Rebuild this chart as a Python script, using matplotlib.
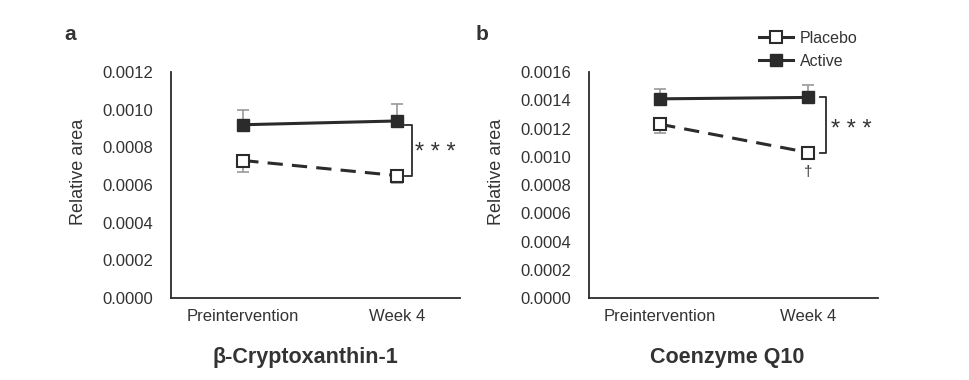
import matplotlib
matplotlib.use("Agg")
import matplotlib.pyplot as plt
from matplotlib.lines import Line2D

plt.rcParams['font.family'] = ['Liberation Sans', 'DejaVu Sans']

categories = ["Preintervention", "Week 4"]

# Panel a: beta-Cryptoxanthin-1
a_active = [0.00092, 0.00094]
a_active_err = [0.00008, 0.00009]
a_placebo = [0.00073, 0.00065]
a_placebo_err = [0.00006, 0.00004]
a_yticks = [0.0, 0.0002, 0.0004, 0.0006, 0.0008, 0.0010, 0.0012]

# Panel b: Coenzyme Q10
b_active = [0.00141, 0.00142]
b_active_err = [0.00007, 0.00009]
b_placebo = [0.00123, 0.00103]
b_placebo_err = [0.00006, 0.00003]
b_yticks = [0.0, 0.0002, 0.0004, 0.0006, 0.0008, 0.0010, 0.0012, 0.0014, 0.0016]

TXT = "#333333"
LINE = "#2b2b2b"
ERR = "#999999"

W, H = 969, 380
fig = plt.figure(figsize=(W / 100, H / 100), dpi=100)
axA = fig.add_axes([171 / W, 1 - 298 / H, 289 / W, 226 / H])
axB = fig.add_axes([589 / W, 1 - 298 / H, 289 / W, 226 / H])


def draw(ax, active, aerr, placebo, perr, yticks, xlim):
    x = list(range(len(categories)))
    ax.errorbar(x, active, yerr=[[0] * len(aerr), aerr], fmt='none', ecolor=ERR,
                elinewidth=1.2, capsize=4, capthick=1.2, zorder=1)
    ax.errorbar(x, placebo, yerr=[perr, [0] * len(perr)], fmt='none', ecolor=ERR,
                elinewidth=1.2, capsize=4, capthick=1.2, zorder=1)
    ax.plot(x, placebo, color=LINE, lw=2.2, ls=(0, (5, 3)), marker='s', ms=8,
            mfc='white', mec=LINE, mew=1.5, zorder=3)
    ax.plot(x, active, color=LINE, lw=2.2, ls='-', marker='s', ms=8,
            mfc=LINE, mec=LINE, zorder=3)
    ax.set_ylim(yticks[0], yticks[-1])
    ax.set_yticks(yticks)
    ax.set_yticklabels([f"{t:.4f}" for t in yticks], fontsize=12, color=TXT)
    ax.set_xlim(*xlim)
    ax.set_xticks(x)
    ax.set_xticklabels(categories, fontsize=12, color=TXT)
    ax.tick_params(axis='x', length=0, pad=8)
    ax.tick_params(axis='y', length=0, pad=13)
    for s in ['top', 'right']:
        ax.spines[s].set_visible(False)
    for s in ['left', 'bottom']:
        ax.spines[s].set_color(LINE)
        ax.spines[s].set_linewidth(1.3)
    ax.set_ylabel("Relative area", fontsize=13, color=TXT)
    ax.yaxis.set_label_coords(-0.291, 0.56)


draw(axA, a_active, a_active_err, a_placebo, a_placebo_err, a_yticks, (-0.47, 1.41))
draw(axB, b_active, b_active_err, b_placebo, b_placebo_err, b_yticks, (-0.48, 1.47))

# titles
fig.text(305 / W, 1 - 358 / H, "β-Cryptoxanthin-1", ha='center', va='center',
         fontsize=15.5, fontweight='bold', color=TXT)
fig.text(727 / W, 1 - 358 / H, "Coenzyme Q10", ha='center', va='center',
         fontsize=15.5, fontweight='bold', color=TXT)

# legend
handles = [
    Line2D([], [], color=LINE, lw=2.2, marker='s', ms=8, mfc='white', mec=LINE, mew=1.5),
    Line2D([], [], color=LINE, lw=2.2, marker='s', ms=8, mfc=LINE, mec=LINE),
]
leg = fig.legend(handles, ["Placebo", "Active"], loc='upper left',
                 bbox_to_anchor=(759 / W, 1 - 31 / H), bbox_transform=fig.transFigure,
                 frameon=False, fontsize=11.5, handlelength=2.1, handletextpad=0.45,
                 labelspacing=0.5, borderpad=0, borderaxespad=0)
for t in leg.get_texts():
    t.set_color(TXT)


def bracket(ax, xpos, y0, y1, w):
    ax.plot([xpos, xpos + w, xpos + w, xpos], [y1, y1, y0, y0], color=LINE, lw=1.3,
            clip_on=False)


bracket(axA, 1.05, a_placebo[1], a_active[1] - 0.00002, 0.05)
axA.annotate("* * *", xy=(1.12, (a_placebo[1] + a_active[1]) / 2), xytext=(0, -8),
             textcoords='offset points', fontsize=17, color=TXT, va='baseline',
             ha='left', annotation_clip=False)
bracket(axB, 1.08, b_placebo[1], b_active[1], 0.04)
axB.annotate("* * *", xy=(1.15, (b_placebo[1] + b_active[1]) / 2), xytext=(0, -8),
             textcoords='offset points', fontsize=17, color=TXT, va='baseline',
             ha='left', annotation_clip=False)
axB.annotate("†", xy=(1.0, b_placebo[1]), xytext=(0, -14), textcoords='offset points',
             fontsize=11, color=TXT, ha='center', va='center')

fig.text(64 / W, 1 - 35 / H, "a", fontsize=15, fontweight='bold', color=TXT, va='center')
fig.text(476 / W, 1 - 35 / H, "b", fontsize=15, fontweight='bold', color=TXT, va='center')

fig.savefig("out.png", dpi=100)
